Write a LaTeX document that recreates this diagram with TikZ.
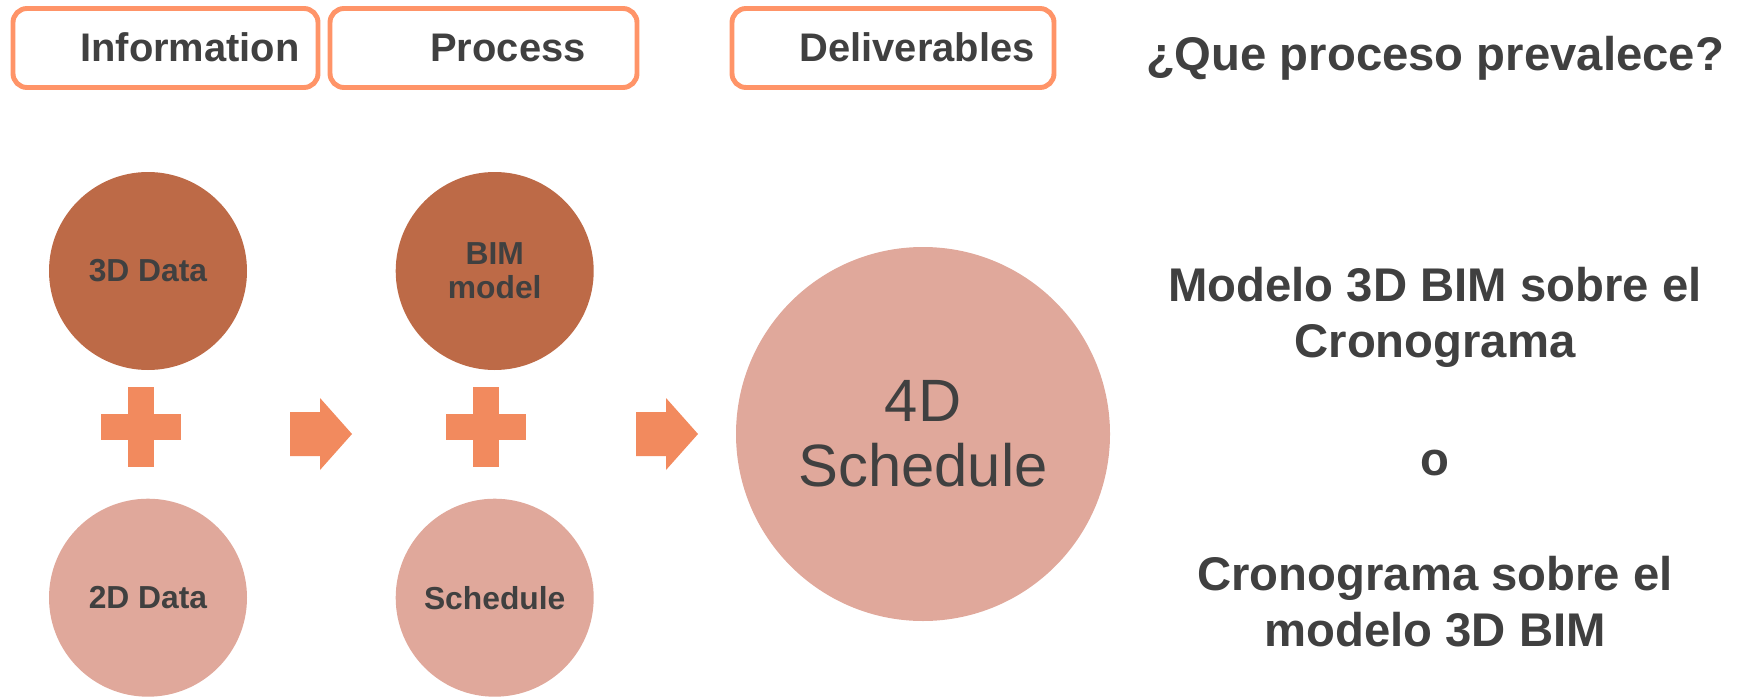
\documentclass[tikz,border=0pt]{standalone}
\usepackage{fontspec}
\setmainfont{Liberation Sans}
\usetikzlibrary{positioning}

\definecolor{txtgray}{HTML}{404040}
\definecolor{darkc}{HTML}{BD6A47}
\definecolor{lightc}{HTML}{E0A89B}
\definecolor{plusc}{HTML}{F28A5E}
\definecolor{boxc}{HTML}{FF9468}

\begin{document}
\begin{tikzpicture}[
  headbox/.style={draw=boxc,line width=2.8pt,rounded corners=0.28cm},
  headtxt/.style={anchor=base,inner sep=0pt,text=txtgray,font=\bfseries\fontsize{22.7}{27}\selectfont},
  opttxt/.style={anchor=base,inner sep=0pt,align=center,text=txtgray,font=\bfseries\fontsize{26.9}{31.7}\selectfont},
  bubble/.style={circle,minimum size=3.96cm,inner sep=0pt,align=center,text=txtgray,font=\bfseries\fontsize{18.1}{19.3}\selectfont},
  bigbubble/.style={circle,minimum size=7.48cm,inner sep=0pt,align=center,fill=lightc,text=txtgray,font=\fontsize{34}{36.8}\selectfont}
]
\useasboundingbox (0,0) rectangle (34.88,13.96);

% column headers
\draw[headbox] (0.26,12.21) rectangle (6.36,13.79);
\draw[headbox] (6.60,12.21) rectangle (12.74,13.79);
\draw[headbox] (14.64,12.21) rectangle (21.08,13.79);
\node[headtxt] (info) at (3.80,12.72) {Information};
\node[headtxt] (proc) at (10.16,12.72) {Process};
\node[headtxt] (deliv) at (18.34,12.72) {Deliverables};

% inputs
\node[bubble,fill=darkc] (d3) at (2.96,8.54) {3D Data};
\node[bubble,fill=lightc,below=2.56cm of d3] (d2) {2D Data};
\node[bubble,fill=darkc,right=2.96cm of d3] (bim) {BIM\\model};
\node[bubble,fill=lightc,below=2.56cm of bim] (sched) {Schedule};
\node[bigbubble] (fourd) at (18.46,5.28) {4D\\Schedule};

% plus signs
\foreach \cx in {2.82,9.72} {
  \fill[plusc] (\cx-0.26,4.62) rectangle (\cx+0.26,6.22);
  \fill[plusc] (\cx-0.8,5.16) rectangle (\cx+0.8,5.68);
}
% block arrows
\foreach \ax in {5.80,12.72} {
  \fill[plusc] (\ax,4.84) -- ++(0.6,0) -- ++(0,-0.28) -- ++(0.64,0.72)
    -- ++(-0.64,0.72) -- ++(0,-0.28) -- ++(-0.6,0) -- cycle;
}

% question and options
\node[opttxt] (quest) at (28.70,12.54) {¿Que proceso prevalece?};
\node[opttxt] (opt1) at (28.70,6.82) {Modelo 3D BIM sobre el\\Cronograma};
\node[opttxt] (orr) at (28.70,4.46) {o};
\node[opttxt] (opt2) at (28.70,1.04) {Cronograma sobre el\\modelo 3D BIM};
\end{tikzpicture}
\end{document}
